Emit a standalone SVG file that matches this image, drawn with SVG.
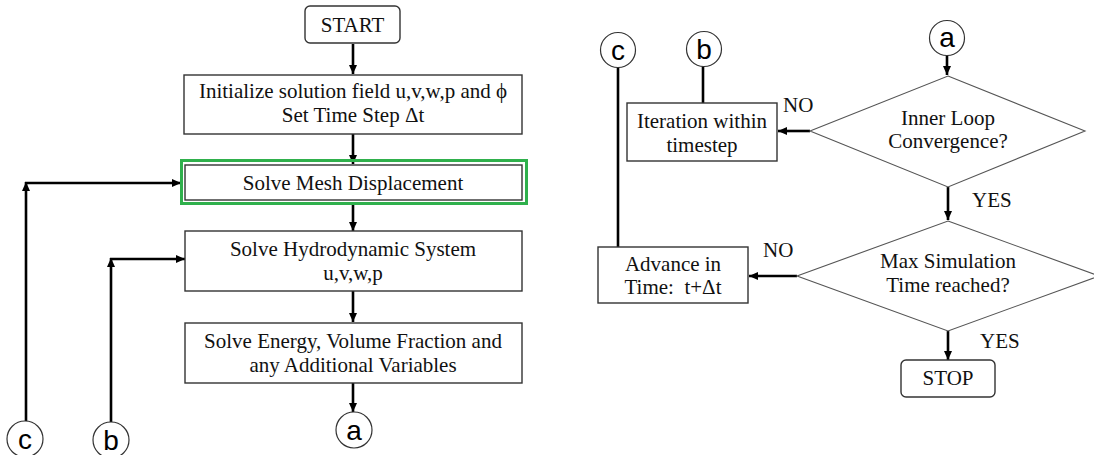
<svg xmlns="http://www.w3.org/2000/svg" width="1094" height="455" viewBox="0 0 1094 455">
<style>
.box{fill:#fff;stroke:#333;stroke-width:1.4}
.dia{fill:#fff;stroke:#555;stroke-width:1.1}
.t{font-family:"Liberation Serif","Times New Roman",serif;font-size:21px;fill:#111;text-anchor:middle}
.lbl{font-family:"Liberation Serif","Times New Roman",serif;font-size:21px;fill:#111}
.c{fill:#fff;stroke:#333;stroke-width:1.2}
.ct{font-family:"Liberation Sans",Arial,sans-serif;font-size:28px;fill:#000;text-anchor:middle}
.ln{fill:none;stroke:#000;stroke-width:2.6}
.ar{fill:none;stroke:#000;stroke-width:2.6;marker-end:url(#ah)}
</style>
<defs>
<marker id="ah" markerUnits="userSpaceOnUse" markerWidth="10" markerHeight="8" refX="9" refY="4" orient="auto">
<path d="M0,0 L9,4 L0,8 z" fill="#000"/>
</marker>
</defs>
<rect width="1094" height="455" fill="#fff"/>

<g id="connectors">
<line class="ar" x1="353" y1="44" x2="353" y2="74"/>
<line class="ar" x1="353" y1="134" x2="353" y2="164"/>
<line class="ar" x1="353" y1="205" x2="353" y2="231"/>
<line class="ar" x1="353" y1="291" x2="353" y2="322"/>
<line class="ar" x1="353" y1="383" x2="353" y2="412"/>
<line class="ar" x1="26" y1="421" x2="26" y2="182"/>
<line class="ar" x1="25" y1="183" x2="181" y2="183"/>
<line class="ar" x1="111" y1="422" x2="111" y2="258"/>
<line class="ar" x1="110" y1="259" x2="185" y2="259"/>
<line class="ln" x1="618" y1="67" x2="618" y2="247"/>
<line class="ln" x1="703" y1="66" x2="703" y2="103"/>
<line class="ar" x1="947" y1="55" x2="947" y2="75"/>
<line class="ar" x1="810" y1="131" x2="778" y2="131"/>
<line class="ar" x1="948" y1="187" x2="948" y2="220"/>
<line class="ar" x1="797" y1="276" x2="749" y2="276"/>
<line class="ar" x1="948" y1="331" x2="948" y2="360"/>
<text class="lbl" x="783" y="112">NO</text>
<text class="lbl" x="972" y="207">YES</text>
<text class="lbl" x="763" y="257">NO</text>
<text class="lbl" x="980" y="348">YES</text>
</g>

<g id="start">
<rect class="box" x="305" y="6" width="95" height="37" rx="5"/>
<text class="t" x="352.5" y="32">START</text>
</g>
<g id="init">
<rect class="box" x="184" y="75" width="338" height="59"/>
<text class="t" x="353" y="98">Initialize solution field u,v,w,p and ϕ</text>
<text class="t" x="353" y="122">Set Time Step Δt</text>
</g>
<g id="mesh">
<rect x="181.5" y="160.5" width="345" height="43" fill="none" stroke="#2fb04c" stroke-width="3"/>
<rect class="box" x="185" y="165" width="337" height="35"/>
<text class="t" x="353" y="190">Solve Mesh Displacement</text>
</g>
<g id="hydro">
<rect class="box" x="185" y="231" width="337" height="60"/>
<text class="t" x="353" y="256">Solve Hydrodynamic System</text>
<text class="t" x="353" y="280">u,v,w,p</text>
</g>
<g id="energy">
<rect class="box" x="185" y="323" width="337" height="60"/>
<text class="t" x="353" y="348">Solve Energy, Volume Fraction and</text>
<text class="t" x="353" y="372">any Additional Variables</text>
</g>
<g id="conn-a-left">
<circle class="c" cx="354" cy="430" r="18"/>
<text class="ct" x="354" y="440">a</text>
</g>
<g id="conn-c-left">
<circle class="c" cx="25" cy="439" r="18"/>
<text class="ct" x="25" y="449">c</text>
</g>
<g id="conn-b-left">
<circle class="c" cx="111" cy="440" r="18"/>
<text class="ct" x="111" y="450">b</text>
</g>

<g id="conn-c-right">
<circle class="c" cx="618" cy="50" r="17.5"/>
<text class="ct" x="618" y="60">c</text>
</g>
<g id="conn-b-right">
<circle class="c" cx="704" cy="49" r="17.5"/>
<text class="ct" x="704" y="59">b</text>
</g>
<g id="conn-a-right">
<circle class="c" cx="947" cy="38" r="17.5"/>
<text class="ct" x="947" y="47">a</text>
</g>
<g id="iteration">
<rect class="box" x="627" y="103" width="150" height="58"/>
<text class="t" x="702" y="128">Iteration within</text>
<text class="t" x="702" y="152">timestep</text>
</g>
<g id="inner-loop">
<polygon class="dia" points="948,76 1085,131 948,187 810,131"/>
<text class="t" x="948" y="125">Inner Loop</text>
<text class="t" x="948" y="148">Convergence?</text>
</g>
<g id="max-sim">
<polygon class="dia" points="948,221 1099,276 948,331 797,276"/>
<text class="t" x="948" y="268">Max Simulation</text>
<text class="t" x="948" y="292">Time reached?</text>
</g>
<g id="advance">
<rect class="box" x="598" y="247" width="150" height="56"/>
<text class="t" x="673" y="271">Advance in</text>
<text class="t" x="673" y="294" xml:space="preserve">Time:  t+Δt</text>
</g>
<g id="stop">
<rect class="box" x="901" y="360" width="94" height="37" rx="5"/>
<text class="t" x="948" y="385">STOP</text>
</g>
</svg>
